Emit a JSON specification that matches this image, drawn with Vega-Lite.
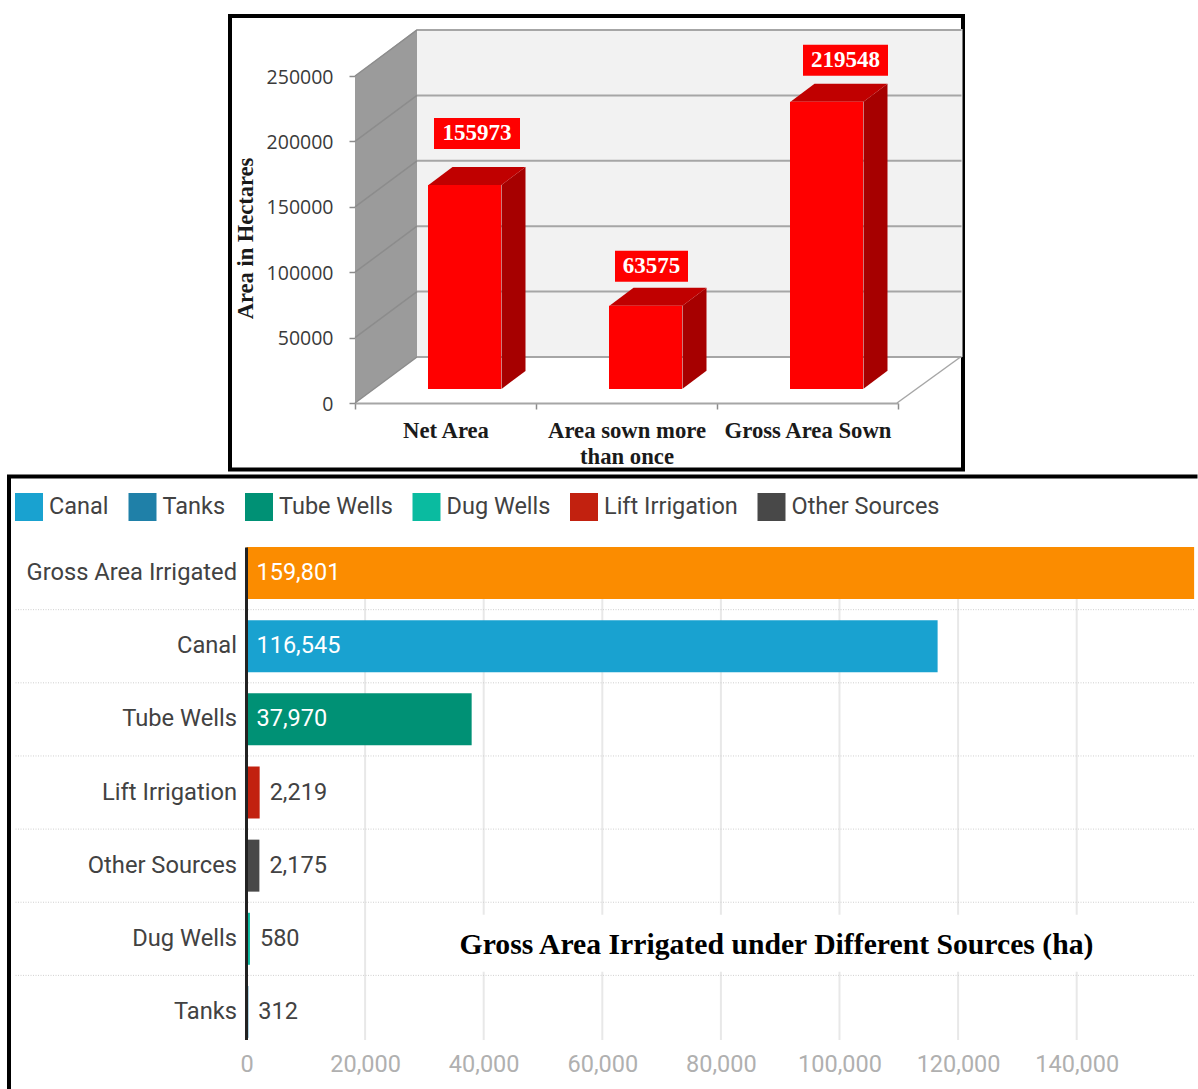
{
"$schema":"https://vega.github.io/schema/vega-lite/v6.json",
"padding":{"left":0,"top":14,"right":0,"bottom":0},
"background":"white",
"config":{"view":{"stroke":null}},
"datasets":{
"sown":[{"category":"Net Area","area":155973},{"category":"Area sown more than once","area":63575},{"category":"Gross Area Sown","area":219548}],
"ticks":[{"tick":0},{"tick":50000},{"tick":100000},{"tick":150000},{"tick":200000},{"tick":250000}],
"irrigated":[{"source":"Gross Area Irrigated","area":159801},{"source":"Canal","area":116545},{"source":"Tube Wells","area":37970},{"source":"Lift Irrigation","area":2219},{"source":"Other Sources","area":2175},{"source":"Dug Wells","area":580},{"source":"Tanks","area":312}],
"xticks":[{"tick":20000},{"tick":40000},{"tick":60000},{"tick":80000},{"tick":100000},{"tick":120000},{"tick":140000}]
},
"vconcat":[
{"hconcat":[
{"width":218.5,"height":453.5,"data":{"values":[]},"mark":"rule","encoding":{}},
{"width":733,"height":453.5,"view":{"stroke":"black","strokeWidth":4},
"layer":[
{"data":{"values":[{"base":0}]},
"mark":{"type":"point","filled":true,"size":4,"opacity":1,"strokeWidth":0,"color":"#f2f2f2","shape":"M-28.5,-46 L517,-46 L517,-374 L-28.5,-374 Z"},
"encoding":{"x":{"datum":"Net Area","type":"nominal","scale":{"domain":["Net Area","Area sown more than once","Gross Area Sown"],"range":[125,668],"paddingInner":0,"paddingOuter":0},"axis":{"title":null,"orient":"bottom","offset":-66.5,"tickBand":"extent","tickSize":6,"tickColor":"#8c8c8c","tickWidth":1.5,"domainColor":"#a6a6a6","domainWidth":2,"labelAngle":0,"labelFont":"Liberation Serif","labelFontWeight":"bold","labelFontSize":22.7,"labelColor":"#1a1a1a","labelPadding":10,"labelLineHeight":26,"labelLimit":300,"labelExpr":"datum.label == 'Area sown more than once' ? ['Area sown more','than once'] : datum.label"}},
"y":{"field":"base","type":"quantitative","scale":{"domain":[-50841,295872],"nice":false,"zero":false},"axis":{"title":"Area in Hectares","titleFont":"Liberation Serif","titleFontWeight":"bold","titleFontSize":22.5,"titleColor":"#1a1a1a","titleX":-98,"titleY":222,"offset":-125,"values":[0,50000,100000,150000,200000,250000],"labelExpr":"format(datum.value,'d')","grid":false,"domain":false,"tickSize":6,"tickColor":"#8c8c8c","tickWidth":1.5,"labelFont":"Open Sans","labelFontSize":19.5,"labelColor":"#3a3a3a","labelPadding":16,"labelOffset":1}}}},
{"data":{"values":[{"base":0}]},
"mark":{"type":"point","filled":true,"size":4,"opacity":1,"strokeWidth":0,"color":"#9b9b9b","shape":"M-90.5,0 L-28.5,-46 L-28.5,-374 L-90.5,-327 Z"},
"encoding":{"x":{"datum":"Net Area","type":"nominal"},"y":{"field":"base","type":"quantitative"}}},
{"data":{"name":"ticks"},
"mark":{"type":"point","filled":false,"size":4,"opacity":1,"strokeWidth":1.5,"color":"#8c8c8c","shape":"M-90.5,0 L-28.5,-46"},
"encoding":{"x":{"datum":"Net Area","type":"nominal"},"y":{"field":"tick","type":"quantitative"}}},
{"data":{"name":"ticks"},
"mark":{"type":"point","filled":false,"size":4,"opacity":1,"strokeWidth":2,"color":"#a6a6a6","shape":"M-28.5,-46 L516,-46"},
"encoding":{"x":{"datum":"Net Area","type":"nominal"},"y":{"field":"tick","type":"quantitative"}}},
{"data":{"values":[{"base":0}]},
"mark":{"type":"point","filled":false,"size":4,"opacity":1,"strokeWidth":1.5,"color":"#a6a6a6","shape":"M451.5,0 L515,-46"},
"encoding":{"x":{"datum":"Net Area","type":"nominal"},"y":{"field":"base","type":"quantitative"}}},
{"data":{"name":"sown"},
"mark":{"type":"point","filled":true,"size":4,"opacity":1,"strokeWidth":0},
"encoding":{"x":{"field":"category","type":"nominal"},"y":{"field":"area","type":"quantitative"},"color":{"value":"#a60000"},
"shape":{"field":"category","type":"nominal","legend":null,"scale":{"domain":["Net Area","Area sown more than once","Gross Area Sown"],"range":["M56,-14 L80,-32 L80,172 L56,190 Z","M56,-14 L80,-32 L80,51 L56,69 Z","M56,-14 L80,-32 L80,255 L56,273 Z"]}}}},
{"data":{"name":"sown"},
"mark":{"type":"point","filled":true,"size":4,"opacity":1,"strokeWidth":0,"color":"#c00000","shape":"M-17,-14 L56,-14 L80,-32 L7,-32 Z"},
"encoding":{"x":{"field":"category","type":"nominal"},"y":{"field":"area","type":"quantitative"}}},
{"data":{"name":"sown"},
"mark":{"type":"bar","color":"#ff0000","width":73,"xOffset":19,"yOffset":-14,"y2Offset":-14},
"encoding":{"x":{"field":"category","type":"nominal","sort":null},
"y":{"field":"area","type":"quantitative"},
"y2":{"datum":0}}},
{"data":{"name":"sown"},
"mark":{"type":"point","filled":true,"size":4,"opacity":1,"strokeWidth":0,"color":"#ff0000"},
"encoding":{"x":{"field":"category","type":"nominal"},"y":{"field":"area","type":"quantitative"},
"shape":{"field":"category","type":"nominal","legend":null,"scale":{"domain":["Net Area","Area sown more than once","Gross Area Sown"],"range":["M-11.5,-81 L74.5,-81 L74.5,-50 L-11.5,-50 Z","M-11.5,-69 L61.5,-69 L61.5,-38 L-11.5,-38 Z","M-4.5,-71 L80.5,-71 L80.5,-40 L-4.5,-40 Z"]}}}},
{"data":{"name":"sown"},"transform":[{"filter":"datum.category == 'Net Area'"}],
"mark":{"type":"text","font":"Liberation Serif","fontWeight":"bold","fontSize":23,"color":"white","dx":31.5,"dy":-65.7,"baseline":"middle"},
"encoding":{"x":{"field":"category","type":"nominal"},"y":{"field":"area","type":"quantitative"},"text":{"field":"area","type":"quantitative","format":"d"}}},
{"data":{"name":"sown"},"transform":[{"filter":"datum.category == 'Area sown more than once'"}],
"mark":{"type":"text","font":"Liberation Serif","fontWeight":"bold","fontSize":23,"color":"white","dx":25,"dy":-53.7,"baseline":"middle"},
"encoding":{"x":{"field":"category","type":"nominal"},"y":{"field":"area","type":"quantitative"},"text":{"field":"area","type":"quantitative","format":"d"}}},
{"data":{"name":"sown"},"transform":[{"filter":"datum.category == 'Gross Area Sown'"}],
"mark":{"type":"text","font":"Liberation Serif","fontWeight":"bold","fontSize":23,"color":"white","dx":38,"dy":-55.7,"baseline":"middle"},
"encoding":{"x":{"field":"category","type":"nominal"},"y":{"field":"area","type":"quantitative"},"text":{"field":"area","type":"quantitative","format":"d"}}}
],
"resolve":{"scale":{"shape":"independent"}}}
],"spacing":0},
{"width":1188.5,"height":613,
"layer":[
{"data":{"name":"xticks"},
"mark":{"type":"rule","color":"#e8e8e8","strokeWidth":2,"yOffset":-25.5,"y2Offset":28},
"encoding":{"x":{"field":"tick","type":"quantitative","scale":{"domain":[-40050,160371],"nice":false,"zero":false},"axis":{"title":null,"values":[0,20000,40000,60000,80000,100000,120000,140000],"labelExpr":"format(datum.value,',')","grid":false,"domain":false,"ticks":false,"labelFont":"Roboto","labelFontSize":23.5,"labelColor":"#b0b0b0","labelPadding":0,"offset":-37}},
"y":{"datum":"Gross Area Irrigated","type":"nominal","scale":{"domain":["Gross Area Irrigated","Canal","Tube Wells","Lift Irrigation","Other Sources","Dug Wells","Tanks"],"range":[60,572],"paddingInner":0.29,"paddingOuter":0.145},"axis":{"title":null,"offset":-237.5,"domain":false,"ticks":false,"grid":false,"labelFont":"Roboto","labelFontSize":23.7,"labelColor":"#424242","labelPadding":10,"labelLimit":300}},
"y2":{"datum":"Tanks"}}},
{"data":{"values":[{"source":"Gross Area Irrigated"},{"source":"Canal"},{"source":"Tube Wells"},{"source":"Lift Irrigation"},{"source":"Other Sources"},{"source":"Dug Wells"}]},
"mark":{"type":"rule","color":"#cfcfcf","strokeWidth":1,"strokeDash":[1,1.5],"yOffset":36.6,"y2Offset":36.6},
"encoding":{"x":{"datum":-38950},"x2":{"datum":159801},"y":{"field":"source","type":"nominal"}}},
{"data":{"name":"irrigated"},
"mark":{"type":"bar","height":52},
"encoding":{"x":{"field":"area","type":"quantitative"},"x2":{"datum":0},"y":{"field":"source","type":"nominal"},
"color":{"field":"source","type":"nominal","scale":{"domain":["Gross Area Irrigated","Canal","Tanks","Tube Wells","Dug Wells","Lift Irrigation","Other Sources"],"range":["#FB8C00","#19A2D0","#1F80A8","#009175","#0ABBA0","#C2210F","#484848"]},
"legend":{"values":["Canal","Tanks","Tube Wells","Dug Wells","Lift Irrigation","Other Sources"],"orient":"none","legendX":6,"legendY":477,"direction":"horizontal","columns":6,"title":null,"symbolType":"square","symbolSize":784,"symbolStrokeWidth":0,"labelFont":"Roboto","labelFontSize":23.5,"labelColor":"#424242","labelOffset":6,"labelLimit":300,"columnPadding":19.5,"padding":0}}}},
{"data":{"values":[{"source":"Gross Area Irrigated"}]},
"mark":{"type":"rule","color":"#222222","strokeWidth":3,"yOffset":-25.5,"y2Offset":28},
"encoding":{"x":{"datum":0},"y":{"datum":"Gross Area Irrigated","type":"nominal"},"y2":{"datum":"Tanks"}}},
{"data":{"name":"irrigated"},"transform":[{"filter":"datum.area > 5000"}],
"mark":{"type":"text","font":"Roboto","fontSize":23.5,"color":"white","align":"left","dx":10,"baseline":"middle"},
"encoding":{"x":{"datum":0},"y":{"field":"source","type":"nominal"},"text":{"field":"area","type":"quantitative","format":","}}},
{"data":{"name":"irrigated"},"transform":[{"filter":"datum.area <= 5000"}],
"mark":{"type":"text","font":"Roboto","fontSize":23.5,"color":"#424242","align":"left","dx":10,"baseline":"middle"},
"encoding":{"x":{"field":"area","type":"quantitative"},"y":{"field":"source","type":"nominal"},"text":{"field":"area","type":"quantitative","format":","}}},
{"data":{"values":[{"source":"Dug Wells"}]},
"mark":{"type":"bar","color":"white","height":57,"yOffset":4.5},
"encoding":{"x":{"datum":36000},"x2":{"datum":143000},"y":{"field":"source","type":"nominal"}}},
{"data":{"values":[{"source":"Dug Wells","caption":"Gross Area Irrigated under Different Sources (ha)"}]},
"mark":{"type":"text","font":"Liberation Serif","fontWeight":"bold","fontSize":29.7,"color":"black","dy":6,"baseline":"middle"},
"encoding":{"x":{"datum":89376},"y":{"field":"source","type":"nominal"},"text":{"field":"caption","type":"nominal"}}},
{"data":{"values":[{"source":"Gross Area Irrigated"}]},
"mark":{"type":"point","filled":false,"size":4,"opacity":1,"strokeWidth":4,"color":"black","shape":"M-237.5,516.5 L-237.5,-96.5 L951,-96.5"},
"encoding":{"x":{"datum":0},"y":{"field":"source","type":"nominal"}}}
]}
],"spacing":-3.5}
